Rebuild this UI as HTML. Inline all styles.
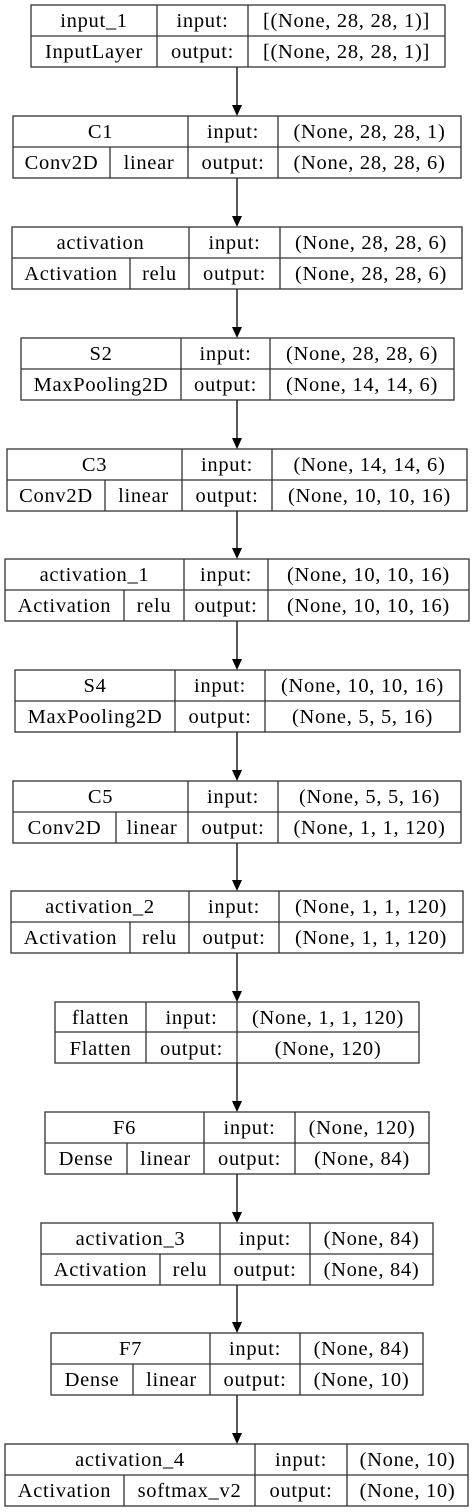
<!DOCTYPE html>
<html><head><meta charset="utf-8"><style>
html,body{margin:0;padding:0;background:#fff;}
svg{display:block;}
text{font-family:"Liberation Serif","DejaVu Serif",serif;font-size:20.5px;letter-spacing:0.7px;fill:#000;text-anchor:middle;}
.b{fill:none;stroke:#333;stroke-width:1.3;}
.l{stroke:#333;stroke-width:1.3;}
.a{stroke:#000;stroke-width:1.3;}
</style></head><body>
<svg width="475" height="1512" viewBox="0 0 475 1512" xmlns="http://www.w3.org/2000/svg">
<g>
<line class="a" x1="237" y1="67" x2="237" y2="106"/><polygon points="232,105 242,105 237,116"/>
<line class="a" x1="237" y1="178" x2="237" y2="217"/><polygon points="232,216 242,216 237,227"/>
<line class="a" x1="237" y1="289" x2="237" y2="328"/><polygon points="232,327 242,327 237,338"/>
<line class="a" x1="237" y1="400" x2="237" y2="439"/><polygon points="232,438 242,438 237,449"/>
<line class="a" x1="237" y1="511" x2="237" y2="549"/><polygon points="232,548 242,548 237,559"/>
<line class="a" x1="237" y1="621" x2="237" y2="660"/><polygon points="232,659 242,659 237,670"/>
<line class="a" x1="237" y1="732" x2="237" y2="771"/><polygon points="232,770 242,770 237,781"/>
<line class="a" x1="237" y1="843" x2="237" y2="881"/><polygon points="232,880 242,880 237,891"/>
<line class="a" x1="237" y1="953" x2="237" y2="992"/><polygon points="232,991 242,991 237,1002"/>
<line class="a" x1="237" y1="1063" x2="237" y2="1102"/><polygon points="232,1101 242,1101 237,1112"/>
<line class="a" x1="237" y1="1174" x2="237" y2="1213"/><polygon points="232,1212 242,1212 237,1223"/>
<line class="a" x1="237" y1="1285" x2="237" y2="1323"/><polygon points="232,1322 242,1322 237,1333"/>
<line class="a" x1="237" y1="1395" x2="237" y2="1434"/><polygon points="232,1433 242,1433 237,1444"/>
</g>

<rect class="b" x="31" y="5" width="414" height="62"/>
<line class="l" x1="31" y1="36" x2="445" y2="36"/>
<line class="l" x1="157" y1="5" x2="157" y2="67"/><line class="l" x1="248" y1="5" x2="248" y2="67"/>
<text x="94" y="27">input_1</text><text x="94" y="58">InputLayer</text>
<text x="202.5" y="27">input:</text><text x="202.5" y="58">output:</text>
<text x="346.5" y="27">[(None, 28, 28, 1)]</text><text x="346.5" y="58">[(None, 28, 28, 1)]</text>

<rect class="b" x="13" y="116" width="448" height="62"/>
<line class="l" x1="13" y1="147" x2="461" y2="147"/>
<line class="l" x1="188" y1="116" x2="188" y2="178"/><line class="l" x1="278" y1="116" x2="278" y2="178"/>
<line class="l" x1="110" y1="147" x2="110" y2="178"/>
<text x="100.5" y="138">C1</text><text x="61.5" y="169">Conv2D</text><text x="149" y="169">linear</text>
<text x="233" y="138">input:</text><text x="233" y="169">output:</text>
<text x="369.5" y="138">(None, 28, 28, 1)</text><text x="369.5" y="169">(None, 28, 28, 6)</text>

<rect class="b" x="12" y="227" width="450" height="62"/>
<line class="l" x1="12" y1="258" x2="462" y2="258"/>
<line class="l" x1="189" y1="227" x2="189" y2="289"/><line class="l" x1="280" y1="227" x2="280" y2="289"/>
<line class="l" x1="130" y1="258" x2="130" y2="289"/>
<text x="100.5" y="249">activation</text><text x="71" y="280">Activation</text><text x="159.5" y="280">relu</text>
<text x="234.5" y="249">input:</text><text x="234.5" y="280">output:</text>
<text x="371" y="249">(None, 28, 28, 6)</text><text x="371" y="280">(None, 28, 28, 6)</text>

<rect class="b" x="21" y="338" width="433" height="62"/>
<line class="l" x1="21" y1="369" x2="454" y2="369"/>
<line class="l" x1="181" y1="338" x2="181" y2="400"/><line class="l" x1="270" y1="338" x2="270" y2="400"/>
<text x="101" y="360">S2</text><text x="101" y="391">MaxPooling2D</text>
<text x="225.5" y="360">input:</text><text x="225.5" y="391">output:</text>
<text x="362" y="360">(None, 28, 28, 6)</text><text x="362" y="391">(None, 14, 14, 6)</text>

<rect class="b" x="7" y="449" width="460" height="62"/>
<line class="l" x1="7" y1="480" x2="467" y2="480"/>
<line class="l" x1="182" y1="449" x2="182" y2="511"/><line class="l" x1="272" y1="449" x2="272" y2="511"/>
<line class="l" x1="105" y1="480" x2="105" y2="511"/>
<text x="94.5" y="471">C3</text><text x="56" y="502">Conv2D</text><text x="143.5" y="502">linear</text>
<text x="227" y="471">input:</text><text x="227" y="502">output:</text>
<text x="369.5" y="471">(None, 14, 14, 6)</text><text x="369.5" y="502">(None, 10, 10, 16)</text>

<rect class="b" x="5" y="559" width="464" height="62"/>
<line class="l" x1="5" y1="590" x2="469" y2="590"/>
<line class="l" x1="184" y1="559" x2="184" y2="621"/><line class="l" x1="268" y1="559" x2="268" y2="621"/>
<line class="l" x1="124" y1="590" x2="124" y2="621"/>
<text x="94.5" y="581">activation_1</text><text x="64.5" y="612">Activation</text><text x="154" y="612">relu</text>
<text x="226" y="581">input:</text><text x="226" y="612">output:</text>
<text x="368.5" y="581">(None, 10, 10, 16)</text><text x="368.5" y="612">(None, 10, 10, 16)</text>

<rect class="b" x="15" y="670" width="445" height="62"/>
<line class="l" x1="15" y1="701" x2="460" y2="701"/>
<line class="l" x1="175" y1="670" x2="175" y2="732"/><line class="l" x1="265" y1="670" x2="265" y2="732"/>
<text x="95" y="692">S4</text><text x="95" y="723">MaxPooling2D</text>
<text x="220" y="692">input:</text><text x="220" y="723">output:</text>
<text x="362.5" y="692">(None, 10, 10, 16)</text><text x="362.5" y="723">(None, 5, 5, 16)</text>

<rect class="b" x="13" y="781" width="448" height="62"/>
<line class="l" x1="13" y1="812" x2="461" y2="812"/>
<line class="l" x1="188" y1="781" x2="188" y2="843"/><line class="l" x1="278" y1="781" x2="278" y2="843"/>
<line class="l" x1="116" y1="812" x2="116" y2="843"/>
<text x="100.5" y="803">C5</text><text x="64.5" y="834">Conv2D</text><text x="152" y="834">linear</text>
<text x="233" y="803">input:</text><text x="233" y="834">output:</text>
<text x="369.5" y="803">(None, 5, 5, 16)</text><text x="369.5" y="834">(None, 1, 1, 120)</text>

<rect class="b" x="11" y="891" width="452" height="62"/>
<line class="l" x1="11" y1="922" x2="463" y2="922"/>
<line class="l" x1="189" y1="891" x2="189" y2="953"/><line class="l" x1="279" y1="891" x2="279" y2="953"/>
<line class="l" x1="130" y1="922" x2="130" y2="953"/>
<text x="100" y="913">activation_2</text><text x="70.5" y="944">Activation</text><text x="159.5" y="944">relu</text>
<text x="234" y="913">input:</text><text x="234" y="944">output:</text>
<text x="371" y="913">(None, 1, 1, 120)</text><text x="371" y="944">(None, 1, 1, 120)</text>

<rect class="b" x="55" y="1002" width="364" height="61"/>
<line class="l" x1="55" y1="1032" x2="419" y2="1032"/>
<line class="l" x1="146" y1="1002" x2="146" y2="1063"/><line class="l" x1="237" y1="1002" x2="237" y2="1063"/>
<text x="100.5" y="1024">flatten</text><text x="100.5" y="1055">Flatten</text>
<text x="191.5" y="1024">input:</text><text x="191.5" y="1055">output:</text>
<text x="328" y="1024">(None, 1, 1, 120)</text><text x="328" y="1055">(None, 120)</text>

<rect class="b" x="45" y="1112" width="384" height="62"/>
<line class="l" x1="45" y1="1143" x2="429" y2="1143"/>
<line class="l" x1="204" y1="1112" x2="204" y2="1174"/><line class="l" x1="295" y1="1112" x2="295" y2="1174"/>
<line class="l" x1="127" y1="1143" x2="127" y2="1174"/>
<text x="124.5" y="1134">F6</text><text x="86" y="1165">Dense</text><text x="165.5" y="1165">linear</text>
<text x="249.5" y="1134">input:</text><text x="249.5" y="1165">output:</text>
<text x="362" y="1134">(None, 120)</text><text x="362" y="1165">(None, 84)</text>

<rect class="b" x="41" y="1223" width="392" height="62"/>
<line class="l" x1="41" y1="1254" x2="433" y2="1254"/>
<line class="l" x1="220" y1="1223" x2="220" y2="1285"/><line class="l" x1="310" y1="1223" x2="310" y2="1285"/>
<line class="l" x1="160" y1="1254" x2="160" y2="1285"/>
<text x="130.5" y="1245">activation_3</text><text x="100.5" y="1276">Activation</text><text x="190" y="1276">relu</text>
<text x="265" y="1245">input:</text><text x="265" y="1276">output:</text>
<text x="371.5" y="1245">(None, 84)</text><text x="371.5" y="1276">(None, 84)</text>

<rect class="b" x="51" y="1333" width="372" height="62"/>
<line class="l" x1="51" y1="1364" x2="423" y2="1364"/>
<line class="l" x1="210" y1="1333" x2="210" y2="1395"/><line class="l" x1="300" y1="1333" x2="300" y2="1395"/>
<line class="l" x1="133" y1="1364" x2="133" y2="1395"/>
<text x="130.5" y="1355">F7</text><text x="92" y="1386">Dense</text><text x="171.5" y="1386">linear</text>
<text x="255" y="1355">input:</text><text x="255" y="1386">output:</text>
<text x="361.5" y="1355">(None, 84)</text><text x="361.5" y="1386">(None, 10)</text>

<rect class="b" x="5" y="1444" width="463" height="62"/>
<line class="l" x1="5" y1="1475" x2="468" y2="1475"/>
<line class="l" x1="255" y1="1444" x2="255" y2="1506"/><line class="l" x1="347" y1="1444" x2="347" y2="1506"/>
<line class="l" x1="124" y1="1475" x2="124" y2="1506"/>
<text x="130" y="1466">activation_4</text><text x="64.5" y="1497">Activation</text><text x="189.5" y="1497">softmax_v2</text>
<text x="301" y="1466">input:</text><text x="301" y="1497">output:</text>
<text x="407.5" y="1466">(None, 10)</text><text x="407.5" y="1497">(None, 10)</text>
</svg>
</body></html>
